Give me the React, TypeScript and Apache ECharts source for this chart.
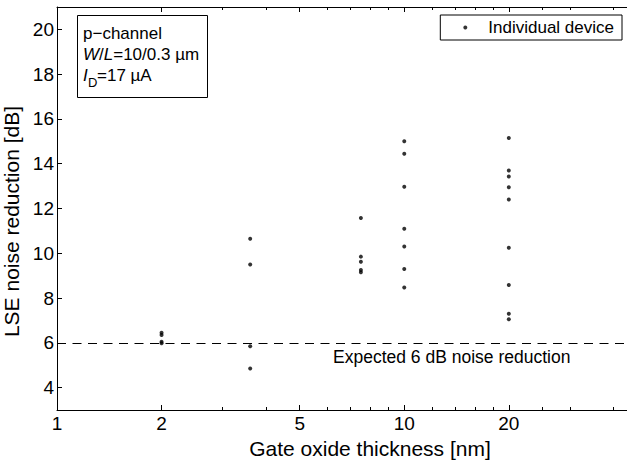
import React, { useEffect, useRef } from "react";
import * as echarts from "echarts";

const thicknessNm = [2, 3.6, 7.5, 10, 20];
const reductionAt2 = [6.45, 6.35, 6.05, 5.98];
const reductionAt36 = [10.65, 9.5, 5.85, 4.85];
const reductionAt75 = [11.58, 9.85, 9.62, 9.25, 9.15];
const reductionAt10 = [15.0, 14.45, 12.97, 11.1, 10.3, 9.3, 8.47];
const reductionAt20 = [15.15, 13.7, 13.43, 12.95, 12.4, 10.25, 8.58, 7.3, 7.05];
const reductionColumns = [reductionAt2, reductionAt36, reductionAt75, reductionAt10, reductionAt20];

const xMajorTicks = [1, 2, 5, 10, 20];
const xMinorTicks = [3, 4, 6, 7, 8, 9, 12, 14, 16, 18, 25, 30, 40];
const yTicks = [4, 6, 8, 10, 12, 14, 16, 18, 20];
const expectedReduction = 6;

const FONT = "'Liberation Sans', Arial, Helvetica, sans-serif";

export default function App() {
  const ref = useRef<HTMLDivElement>(null);
  useEffect(() => {
    if (!ref.current) return;
    const chart = echarts.init(ref.current, undefined, { renderer: "svg" });
    const points: number[][] = [];
    thicknessNm.forEach((t, i) => reductionColumns[i].forEach((v) => points.push([t, v])));

    const xBase = (extra: any) => ({
      type: "log",
      logBase: 10,
      min: 1,
      max: 50,
      splitLine: { show: false },
      axisLine: { show: true, lineStyle: { color: "#000", width: 1 } },
      ...extra,
    });

    chart.setOption({
      animation: false,
      grid: { left: 57, top: 7, right: -20, bottom: 50, show: false, containLabel: false, outerBoundsMode: "none" },
      legend: {
        data: ["Individual device"],
        right: 5,
        top: 15,
        orient: "horizontal",
        backgroundColor: "#fff",
        borderColor: "#000",
        borderWidth: 1,
        borderRadius: 0,
        padding: [4, 8, 4, 23],
        itemWidth: 36,
        itemHeight: 4,
        icon: "circle",
        textStyle: { fontSize: 17, color: "#000", fontFamily: FONT },
      },
      xAxis: [
        xBase({
          position: "bottom",
          name: "Gate oxide thickness [nm]",
          nameLocation: "middle",
          nameGap: 28,
          nameTextStyle: { fontSize: 21, color: "#000", fontFamily: FONT, padding: [0, 0, 0, 36] },
          axisTick: { show: true, inside: true, length: 5, customValues: xMajorTicks, lineStyle: { color: "#000" } },
          axisLabel: {
            show: true,
            customValues: xMajorTicks,
            margin: 4,
            fontSize: 19,
            color: "#000",
            fontFamily: FONT,
            formatter: (v: number) => String(Math.round(v)),
          },
        }),
        xBase({
          position: "bottom",
          axisLine: { show: false },
          axisTick: { show: true, inside: true, length: 3, customValues: xMinorTicks, lineStyle: { color: "#000" } },
          axisLabel: { show: false },
        }),
        xBase({
          position: "top",
          axisTick: { show: true, inside: true, length: 5, customValues: xMajorTicks, lineStyle: { color: "#000" } },
          axisLabel: { show: false },
        }),
        xBase({
          position: "top",
          axisLine: { show: false },
          axisTick: { show: true, inside: true, length: 3, customValues: xMinorTicks, lineStyle: { color: "#000" } },
          axisLabel: { show: false },
        }),
      ],
      yAxis: [
        {
          type: "value",
          min: 3,
          max: 21,
          position: "left",
          name: "LSE noise reduction [dB]",
          nameLocation: "middle",
          nameGap: 23,
          nameTextStyle: { fontSize: 21, color: "#000", fontFamily: FONT, padding: [0, 26, 0, 0] },
          splitLine: { show: false },
          axisLine: { show: true, lineStyle: { color: "#000", width: 1 } },
          axisTick: { show: true, inside: true, length: 5, customValues: yTicks, lineStyle: { color: "#000" } },
          axisLabel: { show: true, customValues: yTicks, margin: 3, fontSize: 19, color: "#000", fontFamily: FONT },
        },
        {
          type: "value",
          min: 3,
          max: 21,
          position: "right",
          splitLine: { show: false },
          axisLine: { show: true, lineStyle: { color: "#000", width: 1 } },
          axisTick: { show: true, inside: true, length: 5, customValues: yTicks, lineStyle: { color: "#000" } },
          axisLabel: { show: false },
        },
      ],
      series: [
        {
          name: "Individual device",
          type: "scatter",
          xAxisIndex: 0,
          yAxisIndex: 0,
          symbol: "circle",
          symbolSize: 4,
          itemStyle: { color: "#000" },
          data: points,
          markLine: {
            silent: true,
            symbol: ["none", "none"],
            label: { show: false },
            lineStyle: { color: "#000", width: 1, type: [9, 6.5] },
            data: [{ yAxis: expectedReduction }],
          },
        },
      ],
      graphic: [
        {
          type: "rect",
          z: 100,
          shape: { x: 77.5, y: 15.5, width: 130, height: 82 },
          style: { fill: "#fff", stroke: "#000", lineWidth: 1 },
        },
        {
          type: "text",
          z: 101,
          x: 83,
          y: 33,
          style: { text: "p−channel", font: `17px ${FONT}`, fill: "#000", verticalAlign: "middle" },
        },
        {
          type: "text",
          z: 101,
          x: 83,
          y: 54,
          style: {
            text: "{i|W}/{i|L}=10/0.3 µm",
            font: `17px ${FONT}`,
            fill: "#000",
            verticalAlign: "middle",
            rich: {
              i: { fontStyle: "italic", fontSize: 17, fontFamily: FONT, fill: "#000" },
            },
          },
        },
        {
          type: "text",
          z: 101,
          x: 83,
          y: 75,
          style: { text: "I", font: `italic 17px ${FONT}`, fill: "#000", verticalAlign: "middle" },
        },
        {
          type: "text",
          z: 101,
          x: 88,
          y: 82,
          style: { text: "D", font: `13px ${FONT}`, fill: "#000", verticalAlign: "middle" },
        },
        {
          type: "text",
          z: 101,
          x: 97,
          y: 75,
          style: { text: "=17 µA", font: `17px ${FONT}`, fill: "#000", verticalAlign: "middle" },
        },
        {
          type: "text",
          z: 101,
          x: 333,
          y: 357,
          style: {
            text: "Expected 6 dB noise reduction",
            font: `17.5px ${FONT}`,
            fill: "#000",
            verticalAlign: "middle",
          },
        },
      ],
    });
    return () => chart.dispose();
  }, []);
  return (
    <div
      ref={ref}
      style={{ position: "fixed", left: 0, top: 0, width: 627, height: 460, background: "#fff" }}
    />
  );
}
